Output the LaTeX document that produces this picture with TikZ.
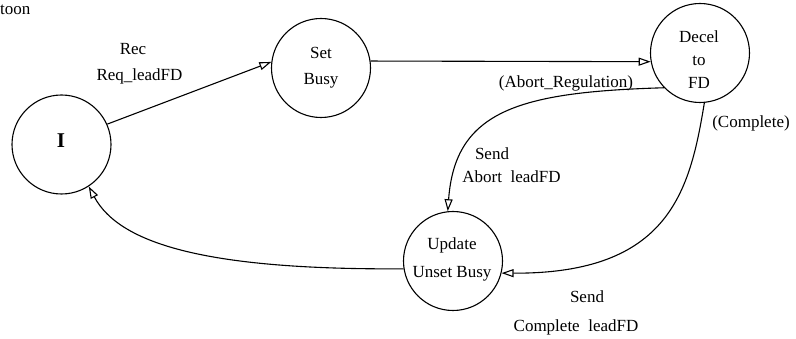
\documentclass[tikz,border=0pt]{standalone}
\usepackage{fontspec}
\setmainfont{Liberation Serif}
\usetikzlibrary{arrows.meta}
\begin{document}
\begin{tikzpicture}[x=1pt,y=-1pt,
  state/.style={circle, draw, line width=1.1pt, minimum size=99pt, inner sep=0pt},
  lbl/.style={font=\fontsize{17}{26}\selectfont, inner sep=0pt, anchor=base, align=center},
  edge/.style={line width=1.1pt, -{Triangle[open,length=12pt,width=8pt]}}]
\useasboundingbox (0,0) rectangle (796,339);
% states
\node[state] (I) at (61.5,144.5) {};
\node[state] (set) at (321,68) {};
\node[state] (dec) at (700,53) {};
\node[state] (upd) at (453,261) {};
% state texts (base = last line baseline)
\node[lbl, font=\bfseries\fontsize{21}{26}\selectfont] (Itxt) at (61,148) {I};
\node[lbl] (settxt) at (321,85) {Set\\Busy};
\node[lbl, font=\fontsize{17}{23}\selectfont] (dectxt) at (699,89) {Decel\\to\\FD};
\node[lbl, font=\fontsize{17}{28}\selectfont] (updtxt) at (452,278) {Update\\Unset Busy};
% top-left text
\node[lbl, anchor=base west] (toon) at (0,15) {toon};
% edges
\draw[edge] (I.24) -- (set.173);
\draw[edge] (set.8) -- (dec.190);
\draw[edge] (dec.224) .. controls (520,92) and (455,110) .. (upd.96);
\draw[edge] (dec.275) .. controls (690,190) and (670,274) .. (upd.346);
\draw[edge] (upd.189) .. controls (210,270) and (120,245) .. (I.303);
% edge labels
\node[lbl] (rec) at (133,55) {Rec};
\node[lbl] (req) at (139.5,81) {Req\_leadFD};
\node[lbl] (abreg) at (566,88) {(Abort\_Regulation)};
\node[lbl] (compl) at (751,128) {(Complete)};
\node[lbl] (send1) at (492,160) {Send};
\node[lbl] (abld) at (511.5,183) {Abort~ leadFD};
\node[lbl] (send2) at (587,303) {Send};
\node[lbl] (cold) at (576,332) {Complete~ leadFD};
\end{tikzpicture}
\end{document}
